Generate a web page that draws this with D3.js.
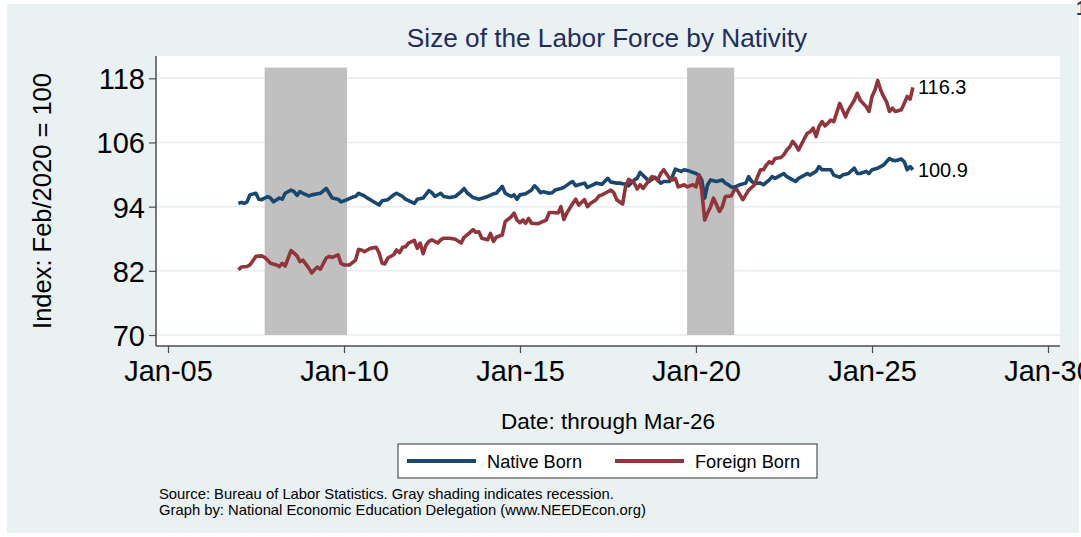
<!DOCTYPE html>
<html>
<head>
<meta charset="utf-8">
<script src="https://d3js.org/d3.v7.min.js"></script>
<style>
  body { margin: 0; background: #fff; }
  svg { display: block; font-family: "Liberation Sans", Arial, sans-serif; }
</style>
</head>
<body>
<div id="chart"></div>
<script>
// data: months counted from Jan 2007, index Feb/2020 = 100
var startMonth = new Date(2007, 0, 1);

var nativeMonths = [0,1,2,3,4,6,7,8,10,11,12,14,15,16,18,19,20,21,22,24,25,27,28,30,31,32,34,35,37,39,40,41,43,44,45,48,49,51,53,54,56,57,60,61,63,65,66,67,69,70,72,74,76,77,78,80,82,84,85,87,88,90,91,93,94,95,96,98,100,101,102,103,104,106,107,108,110,111,113,114,115,116,118,119,121,122,124,126,127,129,130,132,133,135,136,137,139,140,142,144,145,147,148,149,151,152,154,156,157,158,159,160,161,163,165,166,167,168,169,171,173,174,175,176,178,179,181,182,183,185,186,187,189,190,191,193,194,195,197,198,199,201,202,203,205,206,208,210,211,212,214,215,216,218,219,220,222,223,224,226,227,228,229,230];
var nativeValues = [94.6,94.8,94.6,94.9,96.2,96.5,95.4,95.3,95.9,95.6,94.9,95.6,95.4,96.5,97.1,96.8,96.1,96.8,96.5,96.0,96.2,96.4,96.5,97.4,96.5,95.6,95.4,94.9,95.3,95.8,95.9,96.5,96.0,95.6,95.3,94.3,95.1,95.3,96.2,96.5,95.9,95.4,94.6,95.4,95.6,97.0,96.6,95.9,96.5,95.9,95.7,95.9,96.8,97.4,96.6,95.7,95.4,95.7,95.9,96.4,96.5,97.8,96.5,95.9,96.2,95.4,96.2,96.4,97.1,97.9,97.4,96.6,96.8,96.5,96.6,97.1,97.4,97.6,98.4,98.7,97.9,98.1,98.4,97.6,98.1,98.4,98.2,99.3,98.6,98.4,98.4,98.2,97.9,99.0,99.3,100.4,99.3,98.7,99.5,98.4,98.7,98.7,99.6,101.0,100.6,100.9,100.6,100.2,99.9,99.0,95.6,98.1,99.0,98.7,99.0,98.4,98.1,97.7,97.6,98.1,98.4,99.6,98.7,98.4,98.4,98.1,99.0,99.6,99.3,99.9,100.2,99.6,99.0,98.7,99.3,99.9,100.2,99.9,100.6,101.5,100.9,100.9,100.9,99.9,99.5,99.9,100.2,101.2,100.2,100.2,100.6,100.2,100.9,101.2,101.5,101.8,103.0,102.7,102.6,102.9,102.4,100.9,101.5,100.9];

var foreignMonths = [0,1,3,4,5,6,8,9,10,11,13,14,15,16,18,19,20,21,22,24,25,26,27,28,30,31,32,34,35,36,38,40,41,42,43,44,45,47,48,49,50,51,53,54,55,56,57,58,60,61,62,63,64,65,66,68,69,70,72,74,76,77,78,79,80,81,82,83,85,86,87,88,89,90,91,93,94,95,96,97,98,99,100,102,103,105,106,107,109,110,111,112,114,115,116,118,119,120,122,123,124,125,127,128,129,131,132,133,135,136,137,138,140,141,143,144,145,147,148,149,150,152,153,155,156,157,158,159,160,161,162,164,165,166,168,169,170,172,173,174,176,177,178,179,180,181,182,183,185,186,187,188,189,190,191,193,194,195,196,197,198,199,200,201,202,203,205,206,207,208,210,211,212,214,215,216,217,218,219,220,221,222,223,224,226,227,228,229,230];
var foreignValues = [82.2,82.7,82.8,83.1,83.9,84.7,84.8,84.5,84.0,83.4,83.1,82.8,83.4,82.9,85.8,85.3,84.8,83.7,84.0,82.5,81.6,82.2,82.7,82.3,84.4,84.7,84.5,85.0,83.4,83.1,83.1,84.0,86.0,85.9,85.6,85.9,86.2,86.4,85.3,83.4,83.3,84.4,85.0,85.9,85.4,86.4,86.5,87.2,87.7,86.2,87.2,85.2,86.8,87.5,87.8,87.2,87.8,88.1,88.1,87.9,87.2,88.3,88.7,89.2,89.7,89.2,89.3,88.1,87.8,89.0,87.5,88.3,88.5,88.7,91.2,92.1,92.8,91.5,91.0,91.5,90.9,91.8,90.9,90.8,91.0,91.5,92.9,92.9,92.8,94.0,91.6,92.8,94.6,95.4,94.3,95.3,94.0,94.6,95.3,96.0,96.2,96.5,97.1,96.6,95.3,94.5,97.8,99.1,98.4,97.3,98.1,97.4,98.9,99.6,99.0,100.2,100.9,99.3,99.0,99.3,97.7,98.1,97.7,98.1,97.7,99.9,97.1,91.5,92.8,94.0,95.6,93.1,94.0,95.9,96.0,97.1,97.2,95.3,96.2,97.1,98.1,99.6,100.9,100.9,101.8,102.4,102.1,103.0,103.2,103.7,104.6,105.2,106.2,105.5,104.6,106.8,107.7,108.0,108.7,107.1,109.0,109.9,109.1,109.6,110.2,109.9,113.3,112.1,110.8,112.1,113.9,115.2,113.9,112.7,111.8,114.6,115.8,117.6,115.8,114.6,113.6,111.8,112.4,111.8,112.1,113.3,114.6,114.1,116.3];

// recessions (start, end) as "year-month"
var recessionStart = ["2007-10", "2019-10"];
var recessionEnd = ["2010-02", "2021-02"];

var yTicks = [70, 82, 94, 106, 118];
var xTickYears = [2005, 2010, 2015, 2020, 2025, 2030];
var seriesNames = ["Native Born", "Foreign Born"];
var seriesColors = ["#1a476f", "#90353b"];

var W = 1081, H = 537;
var plot = {left: 156, right: 1060, top: 56, bottom: 346};

var parseMonth = d3.timeParse("%Y-%m");
var monthDate = function(m) { return d3.timeMonth.offset(startMonth, m); };

var native = nativeMonths.map(function(m, i) { return {date: monthDate(m), value: nativeValues[i]}; });
var foreign = foreignMonths.map(function(m, i) { return {date: monthDate(m), value: foreignValues[i]}; });

var svg = d3.select("#chart").append("svg")
    .attr("width", W)
    .attr("height", H);

// graph region background
svg.append("rect")
    .attr("x", 7).attr("y", 4)
    .attr("width", 1072).attr("height", 529)
    .attr("fill", "#eaf1f3");

// plot region
svg.append("rect")
    .attr("x", plot.left).attr("y", plot.top)
    .attr("width", plot.right - plot.left).attr("height", plot.bottom - plot.top)
    .attr("fill", "#ffffff");

var x = d3.scaleTime()
    .domain([new Date(2005, 0, 1), new Date(2030, 0, 1)])
    .range([168, 1048]);

var y = d3.scaleLinear()
    .domain([70, 118])
    .range([335, 78.3]);

// gridlines
svg.append("g").selectAll("line")
    .data(yTicks)
    .enter().append("line")
    .attr("x1", plot.left).attr("x2", plot.right)
    .attr("y1", function(d) { return y(d); })
    .attr("y2", function(d) { return y(d); })
    .attr("stroke", "#e6eef1")
    .attr("stroke-width", 1.5);

// recession shading
svg.append("g").selectAll("rect")
    .data(recessionStart)
    .enter().append("rect")
    .attr("x", function(d) { return x(parseMonth(d)); })
    .attr("width", function(d, i) { return x(parseMonth(recessionEnd[i])) - x(parseMonth(d)); })
    .attr("y", y(120))
    .attr("height", y(70) - y(120))
    .attr("fill", "#c0c0c0");

// lines
var line = d3.line()
    .x(function(d) { return x(d.date); })
    .y(function(d) { return y(d.value); });

[native, foreign].forEach(function(s, i) {
    svg.append("path")
        .datum(s)
        .attr("fill", "none")
        .attr("stroke", seriesColors[i])
        .attr("stroke-width", 3.6)
        .attr("stroke-linejoin", "round")
        .attr("d", line);
    var last = s[s.length - 1];
    svg.append("text")
        .attr("x", x(last.date) + 5)
        .attr("y", y(last.value) + 7)
        .attr("font-size", 20)
        .attr("fill", "#000")
        .text(last.value.toFixed(1));
});

// axes
var yAxis = svg.append("g")
    .attr("transform", "translate(" + plot.left + ",0)")
    .call(d3.axisLeft(y).tickValues(yTicks).tickSize(7).tickPadding(4).tickSizeOuter(0));
yAxis.select(".domain").attr("d", "M0," + plot.top + "V" + plot.bottom);

var xAxis = svg.append("g")
    .attr("transform", "translate(0," + plot.bottom + ")")
    .call(d3.axisBottom(x)
        .tickValues(xTickYears.map(function(yr) { return new Date(yr, 0, 1); }))
        .tickFormat(d3.timeFormat("Jan-%y"))
        .tickSize(7).tickPadding(6).tickSizeOuter(0));
xAxis.select(".domain").attr("d", "M" + plot.left + ",0H" + plot.right);

[yAxis, xAxis].forEach(function(a) {
    a.select(".domain").attr("stroke", "#4d4d4d").attr("stroke-width", 1.5);
    a.selectAll(".tick line").attr("stroke", "#4d4d4d").attr("stroke-width", 1.2);
    a.selectAll(".tick text")
        .attr("fill", "#000")
        .attr("font-size", 29)
        .attr("font-family", "\"Liberation Sans\", Arial, sans-serif");
});
yAxis.selectAll(".tick text").attr("dy", "0.36em");
xAxis.selectAll(".tick text").attr("dy", "0.75em");

// titles
svg.append("text")
    .attr("x", 607).attr("y", 47)
    .attr("text-anchor", "middle")
    .attr("font-size", 26.2)
    .attr("fill", "#1f2d5c")
    .text("Size of the Labor Force by Nativity");

svg.append("text")
    .attr("transform", "translate(51,201) rotate(-90)")
    .attr("text-anchor", "middle")
    .attr("font-size", 25.5)
    .attr("fill", "#000")
    .text("Index: Feb/2020 = 100");

svg.append("text")
    .attr("x", 608).attr("y", 429)
    .attr("text-anchor", "middle")
    .attr("font-size", 22.5)
    .attr("fill", "#000")
    .text("Date: through Mar-26");

// legend
var legend = svg.append("g");
legend.append("rect")
    .attr("x", 398).attr("y", 444)
    .attr("width", 419).attr("height", 34)
    .attr("fill", "#fff")
    .attr("stroke", "#333")
    .attr("stroke-width", 1);
var legendX = [407, 615];
seriesNames.forEach(function(name, i) {
    legend.append("line")
        .attr("x1", legendX[i]).attr("x2", legendX[i] + 69)
        .attr("y1", 461).attr("y2", 461)
        .attr("stroke", seriesColors[i])
        .attr("stroke-width", 4);
    legend.append("text")
        .attr("x", legendX[i] + 80).attr("y", 468)
        .attr("font-size", 18.2)
        .attr("fill", "#000")
        .text(name);
});

// notes
var notes = ["Source: Bureau of Labor Statistics. Gray shading indicates recession.",
             "Graph by: National Economic Education Delegation (www.NEEDEcon.org)"];
svg.append("g").selectAll("text")
    .data(notes)
    .enter().append("text")
    .attr("x", 159)
    .attr("y", function(d, i) { return 499 + i * 15.5; })
    .attr("font-size", 14.8)
    .attr("fill", "#000")
    .text(function(d) { return d; });

// cut-off page marker at top right
svg.append("text")
    .attr("x", 1076).attr("y", 15)
    .attr("font-size", 20)
    .attr("font-weight", "bold")
    .attr("fill", "#1a3a6e")
    .text("1");
</script>
</body>
</html>
